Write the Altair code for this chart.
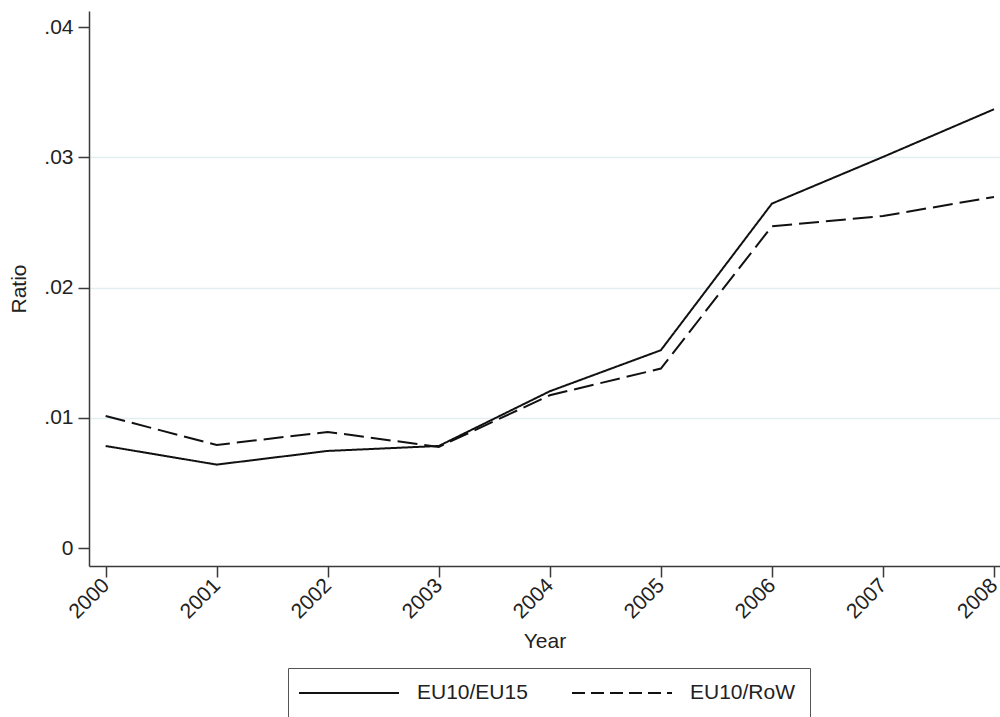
import altair as alt
import pandas as pd

# Ratio of EU10 trade to partner groups, 2000-2008
years = [2000, 2001, 2002, 2003, 2004, 2005, 2006, 2007, 2008]
eu10_eu15 = [0.00785, 0.00642, 0.00747, 0.00785, 0.01205, 0.0152, 0.02645, 0.03003, 0.03369]
eu10_row = [0.01015, 0.00793, 0.00893, 0.00778, 0.01174, 0.01379, 0.02471, 0.0255, 0.02696]
series_names = ["EU10/EU15", "EU10/RoW"]

df = pd.concat([
    pd.DataFrame({"Year": years, "Ratio": eu10_eu15, "Series": series_names[0]}),
    pd.DataFrame({"Year": years, "Ratio": eu10_row, "Series": series_names[1]}),
])

FONT = "Liberation Sans"
TEXT = "#222222"
AXIS = "#3a3a3a"

# long horizontal legend key: the path reaches past the unit square so the
# entry keeps a normal row height while the drawn stroke is 100px long
KEY_PATH = "M-1.4,0H8.6"

x_enc = alt.X(
    "Year:Q",
    scale=alt.Scale(domain=[1999.85, 2008.054], nice=False, zero=False),
    axis=alt.Axis(
        values=years,
        format="d",
        labelAngle=-45,
        labelAlign="right",
        labelBaseline="middle",
        labelPadding=5,
        tickSize=11,
        grid=False,
        title="Year",
        titlePadding=8,
    ),
)
y_enc = alt.Y(
    "Ratio:Q",
    scale=alt.Scale(domain=[-0.00136, 0.04123], nice=False, zero=False),
    axis=alt.Axis(
        values=[0, 0.01, 0.02, 0.03, 0.04],
        labelExpr="datum.value == 0 ? '0' : slice(format(datum.value, '.2f'), 1)",
        tickSize=11,
        labelPadding=5,
        grid=True,
        gridColor="#e4edf1",
        gridWidth=1.5,
        gridOpacity={"condition": {"test": "datum.value < 0.005 || datum.value > 0.035", "value": 0}, "value": 1},
        title="Ratio",
        titlePadding=14,
    ),
)

base = alt.Chart(df)

# the two series
lines = base.mark_line(color="#111111", strokeWidth=2).encode(
    x=x_enc,
    y=y_enc,
    strokeDash=alt.StrokeDash(
        "Series:N",
        scale=alt.Scale(domain=series_names, range=[[1, 0], [20, 7]]),
        legend=None,
    ),
    detail="Series:N",
)

# legend keys, with a finer dash pattern than the plotted lines
key = base.transform_filter("false").mark_line(color="#111111", strokeWidth=2).encode(
    x="Year:Q",
    y="Ratio:Q",
    strokeDash=alt.StrokeDash(
        "Series:N",
        scale=alt.Scale(domain=series_names, range=[[1, 0], [13, 6]]),
        legend=alt.Legend(
            title=None,
            orient="none",
            legendX=199,
            legendY=657,
            direction="horizontal",
            columns=2,
            columnPadding=40,
            symbolType=KEY_PATH,
            symbolSize=400,
            symbolStrokeWidth=2,
            symbolStrokeColor="#111111",
            symbolFillColor="transparent",
            labelOffset=93,
            padding=14,
            strokeColor="#555555",
        ),
    ),
)

chart = alt.layer(lines, key).resolve_scale(
    strokeDash="independent",
).properties(
    width=911,
    height=555,
    autosize=alt.AutoSizeParams(type="none"),
    padding={"left": 89, "top": 11, "right": 0, "bottom": 151},
).configure_view(
    strokeWidth=0,
).configure_axis(
    domainColor=AXIS,
    domainWidth=1.5,
    tickColor=AXIS,
    tickWidth=1.5,
    labelFont=FONT,
    labelFontSize=21,
    labelColor=TEXT,
    titleFont=FONT,
    titleFontSize=21,
    titleFontWeight="normal",
    titleColor=TEXT,
).configure_legend(
    labelFont=FONT,
    labelFontSize=21,
    labelColor=TEXT,
)

chart.save("out.html", embed_options={"renderer": "svg", "actions": False})
